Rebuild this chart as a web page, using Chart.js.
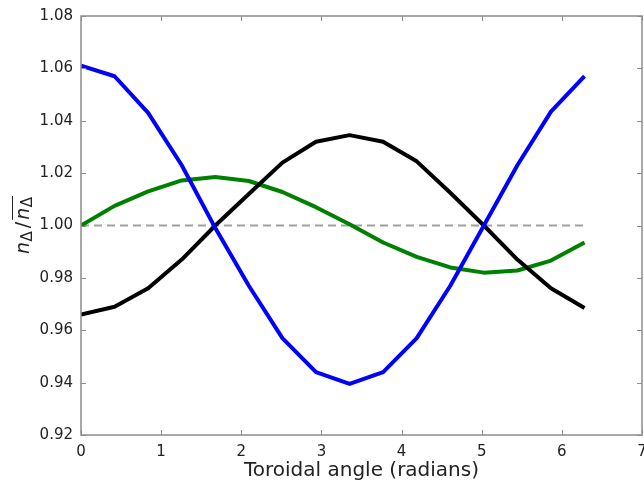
<!DOCTYPE html>
<html>
<head>
<meta charset="utf-8">
<script src="https://cdn.jsdelivr.net/npm/chart.js@4.4.1/dist/chart.umd.min.js"></script>
<style>
  html, body { margin: 0; padding: 0; background: #fff; }
  #wrap { width: 644px; height: 484px; }
</style>
</head>
<body>
<div id="wrap"><canvas id="chart" width="644" height="484"></canvas></div>
<script>
// toroidal angle of each sample (radians)
const angle = [0, 0.419, 0.838, 1.257, 1.676, 2.094, 2.513, 2.932, 3.351, 3.770, 4.189, 4.608, 5.027, 5.445, 5.864, 6.283]
const blueVals  = [1.061, 1.057, 1.043, 1.023, 0.999, 0.977, 0.957, 0.944, 0.9395, 0.944, 0.957, 0.977, 1.000, 1.023, 1.0435, 1.057]
const blackVals = [0.966, 0.969, 0.976, 0.987, 1.000, 1.012, 1.024, 1.032, 1.0345, 1.032, 1.0245, 1.0125, 1.000, 0.987, 0.976, 0.9685]
const greenVals = [1.000, 1.0075, 1.013, 1.0172, 1.0185, 1.017, 1.0128, 1.007, 1.0005, 0.9935, 0.988, 0.984, 0.982, 0.9828, 0.9866, 0.9935]
const refLine = [[0, 1.0], [6.283, 1.0]]
const xTicks = [0, 1, 2, 3, 4, 5, 6, 7]
const yTicks = [0.92, 0.94, 0.96, 0.98, 1.00, 1.02, 1.04, 1.06, 1.08]

let pts = function(ys) {
	return angle.map(function(a, i) { return {x: a, y: ys[i]} })
}

let frame = {
	id: "frame",
	afterDraw: function(chart) {
		let ctx = chart.ctx
		let a = chart.chartArea
		let sx = chart.scales.x
		let sy = chart.scales.y
		ctx.save()
		ctx.strokeStyle = "#8c8c8c"
		ctx.lineWidth = 1.5
		ctx.strokeRect(a.left, a.top, a.right - a.left, a.bottom - a.top)
		ctx.lineWidth = 1
		ctx.beginPath()
		xTicks.forEach(function(v) {
			let px = Math.round(sx.getPixelForValue(v)) + 0.5
			ctx.moveTo(px, a.bottom); ctx.lineTo(px, a.bottom - 5)
			ctx.moveTo(px, a.top); ctx.lineTo(px, a.top + 5)
		})
		yTicks.forEach(function(v) {
			let py = Math.round(sy.getPixelForValue(v)) + 0.5
			ctx.moveTo(a.left, py); ctx.lineTo(a.left + 5, py)
			ctx.moveTo(a.right, py); ctx.lineTo(a.right - 5, py)
		})
		ctx.stroke()

		// y label: n_Δ / overline(n_Δ)
		let big = "italic 19px 'DejaVu Sans'"
		let sub = "15px 'DejaVu Sans'"
		let slash = "19px 'DejaVu Sans'"
		ctx.translate(22, 225)
		ctx.rotate(-Math.PI / 2)
		ctx.fillStyle = "#222"
		ctx.textBaseline = "alphabetic"
		ctx.textAlign = "left"
		ctx.font = big; let wn = ctx.measureText("n").width
		ctx.font = sub; let wd = ctx.measureText("Δ").width
		ctx.font = slash; let ws = ctx.measureText("/").width
		let total = 2 * (wn + wd + 1.5) + ws + 4
		let x = -total / 2
		let base = 6.5
		let part = function(txt, font, dy, gap) {
			ctx.font = font
			ctx.fillText(txt, x, base + dy)
			x += ctx.measureText(txt).width + gap
		}
		part("n", big, 0, 0.5)
		part("Δ", sub, 3, 1)
		x += 2
		part("/", slash, 0, 2)
		let ox = x
		part("n", big, 0, 0.5)
		part("Δ", sub, 3, 1)
		ctx.strokeStyle = "#222"
		ctx.lineWidth = 1
		ctx.beginPath()
		ctx.moveTo(ox, base - 16)
		ctx.lineTo(x, base - 16)
		ctx.stroke()
		ctx.restore()
	}
}

let elem = document.querySelector("#chart")
let chart = new Chart(elem, {
	type: "line",
	data: {
		datasets: [{
			data: pts(blueVals),
			borderColor: "#0000ff",
			borderWidth: 4,
			order: 0,
		}, {
			data: pts(blackVals),
			borderColor: "#000000",
			borderWidth: 4,
			order: 1,
		}, {
			data: pts(greenVals),
			borderColor: "#008000",
			borderWidth: 4,
			order: 2,
		}, {
			data: refLine.map(function(p) { return {x: p[0], y: p[1]} }),
			borderColor: "#a0a0a0",
			borderWidth: 2,
			borderDash: [8, 5],
			order: 3,
		}],
	},
	options: {
		responsive: false,
		animation: false,
		events: [],
		layout: { padding: { top: 16, right: 2, left: 1, bottom: 0 } },
		elements: {
			point: { radius: 0 },
			line: { tension: 0, fill: false, borderCapStyle: "butt", borderJoinStyle: "round" },
		},
		plugins: {
			legend: { display: false },
			tooltip: { enabled: false },
		},
		scales: {
			x: {
				type: "linear",
				min: 0,
				max: 7,
				afterBuildTicks: function(s) { s.ticks = xTicks.map(function(v) { return {value: v} }) },
				afterFit: function(s) { s.height = 49; s.paddingLeft = 0; s.paddingRight = 0 },
				grid: { display: false, drawTicks: false },
				border: { display: false },
				ticks: {
					padding: 8,
					color: "#222",
					font: { family: "DejaVu Sans", size: 15 },
					maxRotation: 0,
					callback: function(v) { return String(v) },
				},
				title: {
					display: true,
					text: "Toroidal angle (radians)",
					color: "#222",
					font: { family: "DejaVu Sans", size: 20 },
					padding: { top: 0, bottom: 1 },
				},
			},
			y: {
				min: 0.92,
				max: 1.08,
				afterBuildTicks: function(s) { s.ticks = yTicks.map(function(v) { return {value: v} }) },
				afterFit: function(s) { s.width = 80; s.paddingTop = 0; s.paddingBottom = 0 },
				grid: { display: false, drawTicks: false },
				border: { display: false },
				ticks: {
					padding: 8,
					color: "#222",
					font: { family: "DejaVu Sans", size: 15 },
					callback: function(v) { return v.toFixed(2) },
				},
			},
		},
	},
	plugins: [frame],
})
</script>
</body>
</html>
